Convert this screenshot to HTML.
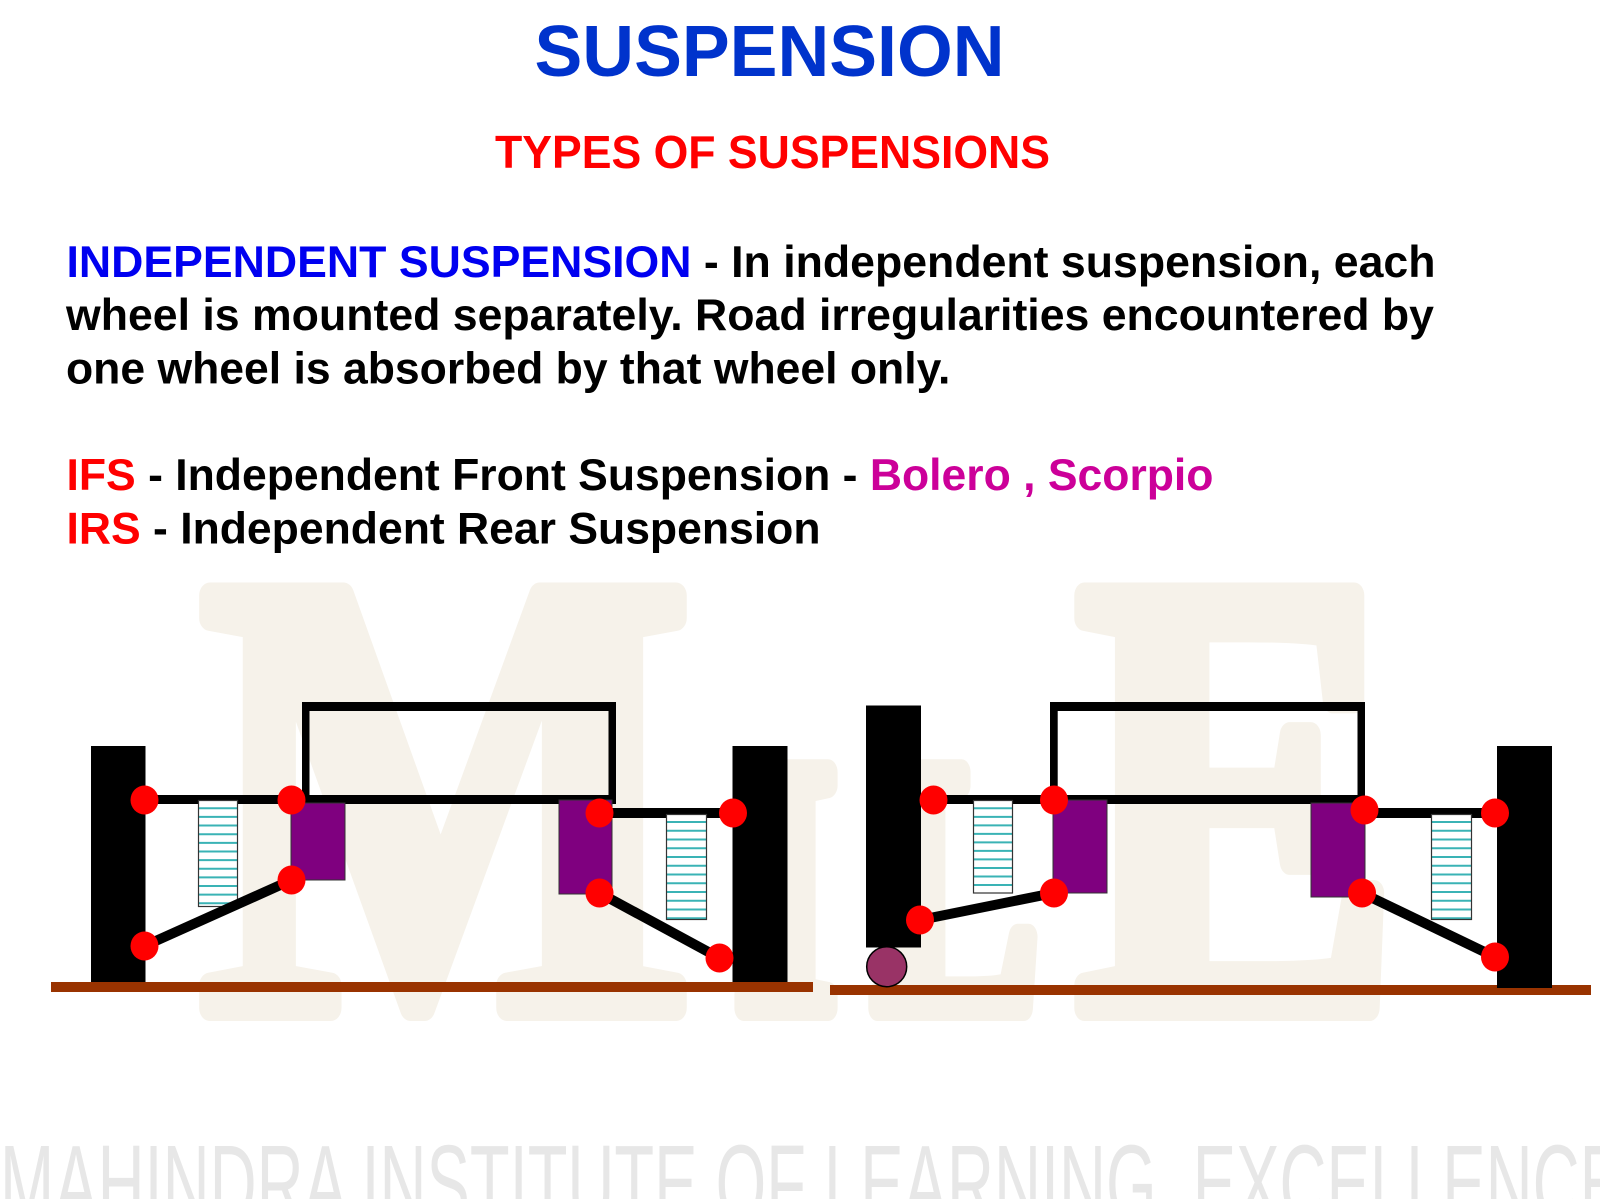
<!DOCTYPE html>
<html>
<head>
<meta charset="utf-8">
<style>
  html,body{margin:0;padding:0;background:#ffffff;}
  svg{display:block;}
  .t{font-family:"Liberation Sans",Arial,sans-serif;font-weight:bold;}
  .wm{font-family:"Liberation Serif","Times New Roman",serif;font-weight:bold;fill:#f6f2ea;stroke:#f6f2ea;stroke-width:26;stroke-linejoin:round;}
</style>
</head>
<body>
<svg width="1600" height="1199" viewBox="0 0 1600 1199" xmlns="http://www.w3.org/2000/svg">
  <rect x="0" y="0" width="1600" height="1199" fill="#ffffff"/>

  <!-- big faint watermark MILE -->
  <text class="wm" x="201" y="1008" font-size="630" textLength="490" lengthAdjust="spacingAndGlyphs">M</text>
  <text class="wm" x="735" y="1008" font-size="360" textLength="102" lengthAdjust="spacingAndGlyphs">I</text>
  <text class="wm" x="873" y="1008" font-size="360" textLength="166" lengthAdjust="spacingAndGlyphs">L</text>
  <text class="wm" x="1076" y="1008" font-size="630" textLength="323" lengthAdjust="spacingAndGlyphs">E</text>

  <!-- bottom watermark text -->
  <text x="0" y="1222" font-family="'Liberation Sans',Arial,sans-serif" font-size="110" fill="#e7e7e7" textLength="1623" lengthAdjust="spacingAndGlyphs" xml:space="preserve">MAHINDRA INSTITUTE OF LEARNING  EXCELLENCE</text>

  <!-- titles -->
  <text class="t" x="534.5" y="76" font-size="72" fill="#0033cc" textLength="470" lengthAdjust="spacingAndGlyphs">SUSPENSION</text>
  <text class="t" x="495" y="168" font-size="46.5" fill="#ff0000" textLength="555" lengthAdjust="spacingAndGlyphs">TYPES OF SUSPENSIONS</text>

  <!-- paragraph -->
  <text class="t" x="66.5" y="277" font-size="44.5" fill="#000" textLength="1369" lengthAdjust="spacingAndGlyphs"><tspan fill="#0000f0">INDEPENDENT SUSPENSION</tspan> - In independent suspension, each</text>
  <text class="t" x="66" y="330" font-size="44.5" fill="#000" textLength="1368" lengthAdjust="spacingAndGlyphs">wheel is mounted separately. Road irregularities encountered by</text>
  <text class="t" x="66" y="383.3" font-size="44.5" fill="#000">one wheel is absorbed by that wheel only.</text>

  <text class="t" x="66.5" y="490" font-size="44.5" fill="#000" textLength="1147" lengthAdjust="spacingAndGlyphs"><tspan fill="#ff0000">IFS</tspan> - Independent Front Suspension - <tspan fill="#cc0099">Bolero , Scorpio</tspan></text>
  <text class="t" x="66.5" y="543.3" font-size="44.5" fill="#000" textLength="754" lengthAdjust="spacingAndGlyphs"><tspan fill="#ff0000">IRS</tspan> - Independent Rear Suspension</text>

  <!-- ================= DIAGRAM 1 ================= -->
  <rect x="51" y="982" width="762" height="10" fill="#993300"/>
  <rect x="91" y="746" width="54.5" height="236" fill="#000"/>
  <rect x="732.5" y="746" width="55" height="236" fill="#000"/>
  <rect x="302" y="702" width="314" height="9" fill="#000"/>
  <rect x="302" y="702" width="7.5" height="101" fill="#000"/>
  <rect x="608.5" y="702" width="7.5" height="101" fill="#000"/>
  <rect x="145" y="795" width="471" height="9" fill="#000"/>
  <rect x="600" y="808" width="133" height="10" fill="#000"/>
  <rect x="198" y="800" width="40" height="107" fill="#ffffff"/>
  <line x1="218" y1="807.3" x2="218" y2="906" stroke="#3ab3b5" stroke-width="40" stroke-dasharray="2 6.63"/>
  <rect x="198.5" y="800.5" width="39" height="106" fill="none" stroke="#333" stroke-width="1.2"/>
  <rect x="666" y="814" width="41" height="106" fill="#ffffff"/>
  <line x1="686.5" y1="821" x2="686.5" y2="920" stroke="#3ab3b5" stroke-width="41" stroke-dasharray="2 6.75"/>
  <rect x="666.5" y="814.5" width="40" height="105" fill="none" stroke="#333" stroke-width="1.2"/>
  <rect x="291" y="803" width="54" height="77" fill="#7f007f" stroke="#333" stroke-width="1"/>
  <rect x="559" y="800" width="53" height="94" fill="#7f007f" stroke="#333" stroke-width="1"/>
  <line x1="291.5" y1="880" x2="144.5" y2="946" stroke="#000" stroke-width="10"/>
  <line x1="599.5" y1="893" x2="719.5" y2="958" stroke="#000" stroke-width="10"/>
  <g fill="#ff0000">
    <ellipse cx="144.5" cy="800" rx="14" ry="14.5"/>
    <ellipse cx="291.5" cy="800" rx="14" ry="14.5"/>
    <ellipse cx="291.5" cy="880" rx="14" ry="14.5"/>
    <ellipse cx="144.5" cy="946" rx="14" ry="14.5"/>
    <ellipse cx="599.5" cy="813" rx="14" ry="14.5"/>
    <ellipse cx="733" cy="813" rx="14" ry="14.5"/>
    <ellipse cx="599.5" cy="893" rx="14" ry="14.5"/>
    <ellipse cx="719.5" cy="958" rx="14" ry="14.5"/>
  </g>

  <!-- ================= DIAGRAM 2 ================= -->
  <rect x="830" y="985" width="761" height="10" fill="#993300"/>
  <rect x="866" y="705.5" width="55" height="242" fill="#000"/>
  <rect x="1497" y="746" width="55" height="242" fill="#000"/>
  <circle cx="886.7" cy="966.7" r="20" fill="#993366" stroke="#000" stroke-width="1.5"/>
  <rect x="1050" y="702" width="315" height="9" fill="#000"/>
  <rect x="1050" y="702" width="7.7" height="101" fill="#000"/>
  <rect x="1357.5" y="702" width="7.5" height="101" fill="#000"/>
  <rect x="920" y="795" width="445" height="9" fill="#000"/>
  <rect x="1365" y="808" width="132" height="10" fill="#000"/>
  <rect x="973" y="800" width="40" height="93" fill="#ffffff"/>
  <line x1="993" y1="807.3" x2="993" y2="892" stroke="#3ab3b5" stroke-width="40" stroke-dasharray="2 6.52"/>
  <rect x="973.5" y="800.5" width="39" height="92.5" fill="none" stroke="#333" stroke-width="1.2"/>
  <rect x="1431" y="814" width="41" height="106" fill="#ffffff"/>
  <line x1="1451.5" y1="821" x2="1451.5" y2="920" stroke="#3ab3b5" stroke-width="41" stroke-dasharray="2 6.75"/>
  <rect x="1431.5" y="814.5" width="40" height="105" fill="none" stroke="#333" stroke-width="1.2"/>
  <rect x="1053" y="800" width="54" height="93" fill="#7f007f" stroke="#333" stroke-width="1"/>
  <rect x="1311" y="803" width="54" height="94" fill="#7f007f" stroke="#333" stroke-width="1"/>
  <line x1="1054" y1="893" x2="920" y2="920" stroke="#000" stroke-width="10"/>
  <line x1="1362" y1="893" x2="1495" y2="957" stroke="#000" stroke-width="10"/>
  <g fill="#ff0000">
    <ellipse cx="933.5" cy="800" rx="14" ry="14.5"/>
    <ellipse cx="1054" cy="800" rx="14" ry="14.5"/>
    <ellipse cx="1054" cy="893" rx="14" ry="14.5"/>
    <ellipse cx="920" cy="920" rx="14" ry="14.5"/>
    <ellipse cx="1364.5" cy="810" rx="14" ry="14.5"/>
    <ellipse cx="1495" cy="813" rx="14" ry="14.5"/>
    <ellipse cx="1362" cy="893" rx="14" ry="14.5"/>
    <ellipse cx="1495" cy="957" rx="14" ry="14.5"/>
  </g>
</svg>
</body>
</html>
